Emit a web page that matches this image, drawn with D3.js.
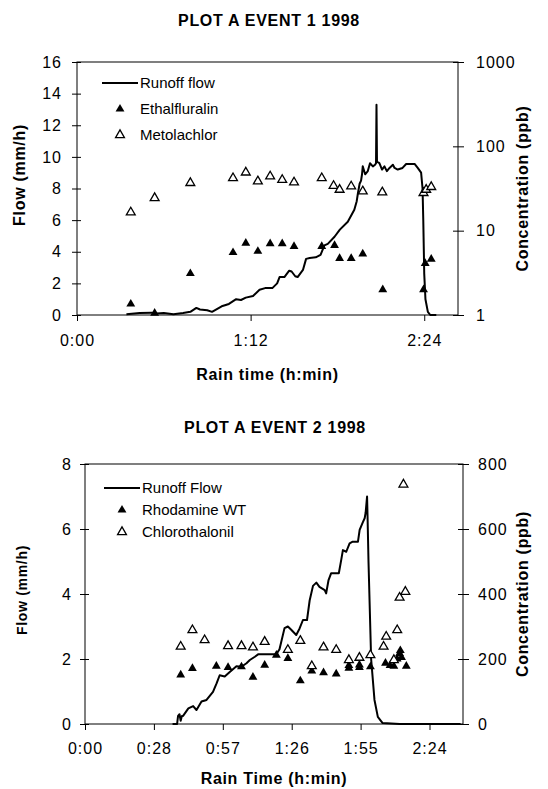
<!DOCTYPE html>
<meta charset="utf-8">
<script src="https://d3js.org/d3.v7.min.js"></script>
<style>
body { margin: 0; background: #fff; }
svg text { font-family: "Liberation Sans", Arial, sans-serif; fill: #000; }
.tick text { font-size: 16px; letter-spacing: 1px; }
.lab { font-size: 16px; font-weight: bold; letter-spacing: 0.7px; }
.leg { font-size: 15px; }
</style>
<div id="my_dataviz"></div>
<script>
// ---------- Event 1 (minutes of rain time) ----------
var flow1Time  = [20.5, 26, 31, 33, 36, 40, 44, 47, 49.5, 51, 54, 56, 60, 63, 66, 68, 70, 73, 75.7, 78, 81, 83, 84, 86, 88, 89, 90.5, 91.5,
                  93.7, 95, 96.5, 99, 101, 102.6, 104, 106.8, 109, 112.3, 115, 116, 116.5, 117.2, 117.8, 118.2, 118.5, 119.5, 120.6,
                  121.5, 122.7, 123.6, 124.0, 124.2, 124.4, 125.4, 126.5, 127.5, 128.5, 129.6, 131, 131.7, 133, 135, 136.5, 140,
                  141.3, 142.7, 143.3, 143.6, 144, 144.5, 145.5, 146.5, 149];
var flow1Value = [0.05, 0.12, 0.15, 0.1, 0.12, 0.05, 0.12, 0.2, 0.45, 0.35, 0.3, 0.2, 0.55, 0.7, 1.0, 0.95, 1.1, 1.2, 1.6, 1.7, 1.7, 2.0, 2.4, 2.4, 2.8, 2.75, 2.45, 2.4,
                  2.85, 3.55, 3.6, 3.65, 3.8, 4.4, 4.5, 4.95, 5.4, 5.9, 6.65, 7.2, 7.7, 8.3, 8.5, 8.9, 9.4, 8.9, 9.1,
                  9.6, 9.4, 9.5, 9.6, 13.3, 9.7, 9.6, 9.2, 9.4, 9.1, 9.3, 9.5, 9.3, 9.2, 9.3, 9.55, 9.55,
                  9.3, 9.0, 8.0, 6.0, 2.6, 1.0, 0.2, 0.0, 0.0];
var ethalTime = [22.3, 32.2, 47, 64.7, 70, 75, 80.1, 85.1, 90, 101.5, 106.8, 108.9, 113.7, 118.5, 126.8, 143.7, 144.4, 146.9];
var ethalConc = [1.35, 1.05, 3.1, 5.5, 7.1, 5.7, 7.0, 7.0, 6.5, 6.5, 6.7, 4.7, 4.7, 5.3, 2.0, 2.0, 4.1, 4.6];
var metoTime  = [22.3, 32.2, 47, 64.7, 70, 75, 80.1, 85.1, 90, 101.5, 106.4, 108.9, 113.7, 118.5, 126.6, 143.7, 144.8, 146.9];
var metoConc  = [16.5, 24.4, 36.8, 42, 49, 38.5, 44, 40, 37.4, 42, 34, 30.6, 33.5, 29.3, 28.5, 28, 30.6, 33];
var xTicks1 = [0, 72, 144];
var xTickLabels1 = ["0:00", "1:12", "2:24"];
var flowTicks1 = [0, 2, 4, 6, 8, 10, 12, 14, 16];
var concTicks1 = [1, 10, 100, 1000];

// ---------- Event 2 ----------
var flow2Time  = [36.6, 38.5, 38.9, 39.5, 40, 40.5, 41, 43.2, 45.2, 46.6, 48.7, 50.8, 53.5, 55, 56.3, 58.4, 60.5, 63.3, 65.4, 67.5,
                  68.9, 71, 72.5, 74.4, 78.5, 80, 81.3, 83.4, 84.8, 86.2, 88.3, 89.7, 91.1, 92.8, 93.9, 95.3, 96.7, 98, 100.2,
                  100.8, 101.8, 102.9, 106.1, 107.1, 107.8, 109.2, 110.6, 111.9, 114.1, 114.8, 116.2, 116.9, 117.3, 117.9,
                  118.1, 118.5, 119.6, 121, 122.4, 124.4, 131.5, 157];
var flow2Value = [0, 0, 0.25, 0.3, 0.1, 0.25, 0.25, 0.48, 0.55, 0.43, 0.69, 0.74, 0.99, 1.25, 1.5, 1.46, 1.6, 1.78, 1.76, 1.87,
                  1.97, 2.07, 2.15, 2.15, 2.15, 2.15, 2.3, 2.95, 3.0, 2.9, 2.74, 2.94, 3.2, 3.2, 3.8, 4.25, 4.35, 4.22, 4.12,
                  4.02, 4.43, 4.64, 4.64, 5.05, 5.35, 5.3, 5.56, 5.61, 5.61, 5.97, 6.22, 6.33, 6.5, 7.0,
                  6.4, 5.0, 2.0, 0.74, 0.22, 0.03, 0, 0];
var rhodTime = [40, 44.9, 54.9, 59.8, 65.4, 70.2, 75.1, 80, 84.8, 90, 94.8, 99.7, 105, 110.3, 110.3, 114.7, 114.7, 119.3,
                125.6, 127.5, 129.1, 130.5, 131.5, 131.8, 132.3, 134.3];
var rhodConc = [151, 171, 178, 174, 176, 144, 181, 212, 202, 133, 163, 158, 154, 172, 180, 174, 182, 176,
                187, 180, 178, 200, 217, 226, 205, 178];
var chloTime = [40, 44.9, 50, 59.8, 65.4, 70.2, 75.1, 84.8, 90, 94.8, 99.7, 105, 110.3, 114.7, 119.3, 124.8, 125.9,
                129.1, 130.5, 131.5, 133.1, 133.9];
var chloConc = [238, 289, 258, 240, 240, 236, 253, 228, 256, 178, 236, 228, 197, 204, 212, 238, 269,
                197, 289, 389, 737, 407];
var xTicks2 = [0, 28.8, 57.6, 86.4, 115.2, 144];
var xTickLabels2 = ["0:00", "0:28", "0:57", "1:26", "1:55", "2:24"];
var flowTicks2 = [0, 2, 4, 6, 8];
var concTicks2 = [0, 200, 400, 600, 800];

var svg = d3.select("#my_dataviz")
  .append("svg")
    .attr("width", 548)
    .attr("height", 789);

var tri = d3.symbol().type(d3.symbolTriangle).size(34);

function drawChart(c) {
  var x = d3.scaleLinear().domain([0, 158]).range([c.left, c.right]);
  var y = d3.scaleLinear().domain([0, c.flowMax]).range([c.bottom, c.top]);
  var y2 = c.logConc
    ? d3.scaleLog().domain([1, 1000]).range([c.bottom, c.top])
    : d3.scaleLinear().domain([0, 800]).range([c.bottom, c.top]);

  // title
  svg.append("text")
    .attr("class", "lab")
    .attr("x", c.titleX).attr("y", c.titleY)
    .attr("text-anchor", "middle")
    .text(c.title);

  // frame
  svg.append("rect")
    .attr("x", c.left).attr("y", c.top)
    .attr("width", c.right - c.left).attr("height", c.bottom - c.top)
    .attr("fill", "none").attr("stroke", "#000").attr("stroke-width", 1);

  // x axis
  var gx = svg.append("g")
    .attr("transform", "translate(0," + c.bottom + ")")
    .call(d3.axisBottom(x).tickValues(c.xTicks)
      .tickFormat(function (d, i) { return c.xLabels[i]; })
      .tickSize(6).tickPadding(c.xPad));
  // left axis
  var gl = svg.append("g")
    .attr("transform", "translate(" + c.left + ",0)")
    .call(d3.axisLeft(y).tickValues(c.flowTicks).tickSize(5).tickPadding(c.lPad));
  gl.selectAll(".tick line").attr("x1", 4);
  // right axis
  var gr = svg.append("g")
    .attr("transform", "translate(" + c.right + ",0)")
    .call(d3.axisRight(y2).tickValues(c.concTicks).tickFormat(d3.format("d")).tickSize(6).tickPadding(c.rPad));
  gr.selectAll(".tick line").attr("x1", -5);
  [gx, gl, gr].forEach(function (g) {
    g.select(".domain").remove();
    g.selectAll(".tick line").attr("stroke", "#000").attr("stroke-width", 1);
    g.selectAll(".tick text").attr("font-family", null).attr("font-size", null);
  });

  // axis labels
  svg.append("text")
    .attr("class", "lab")
    .attr("x", (c.left + c.right) / 2).attr("y", c.xLabY)
    .attr("text-anchor", "middle")
    .text(c.xLabel);
  svg.append("text")
    .attr("class", "lab")
    .style("font-size", c.flowLabSize + "px")
    .attr("transform", "translate(" + c.flowLabX + "," + c.flowLabCY + ") rotate(-90)")
    .attr("text-anchor", "middle")
    .text("Flow (mm/h)");
  svg.append("text")
    .attr("class", "lab")
    .attr("transform", "translate(528," + (c.top + c.bottom) / 2 + ") rotate(-90)")
    .attr("text-anchor", "middle")
    .text("Concentration (ppb)");

  // runoff line
  svg.append("path")
    .datum(d3.range(c.flowT.length))
    .attr("fill", "none")
    .attr("stroke", "#000")
    .attr("stroke-width", 2)
    .attr("stroke-linejoin", "round")
    .attr("d", d3.line()
      .x(function (i) { return x(c.flowT[i]); })
      .y(function (i) { return y(c.flowV[i]); }));

  // concentration markers
  svg.append("g")
    .selectAll("path")
    .data(d3.range(c.fillT.length))
    .enter()
    .append("path")
      .attr("d", tri)
      .attr("transform", function (i) { return "translate(" + x(c.fillT[i]) + "," + y2(c.fillC[i]) + ")"; })
      .attr("fill", "#000");
  svg.append("g")
    .selectAll("path")
    .data(d3.range(c.openT.length))
    .enter()
    .append("path")
      .attr("d", tri)
      .attr("transform", function (i) { return "translate(" + x(c.openT[i]) + "," + y2(c.openC[i]) + ")"; })
      .attr("fill", "#fff").attr("stroke", "#000").attr("stroke-width", 1.3);

  // legend
  var lg = svg.append("g").attr("transform", "translate(" + c.legX + "," + c.legY + ")");
  lg.append("line").attr("x1", 0).attr("x2", 36).attr("y1", 0).attr("y2", 0)
    .attr("stroke", "#000").attr("stroke-width", 2);
  lg.append("text").attr("class", "leg").attr("x", 38).attr("y", 5).text(c.legNames[0]);
  lg.append("path").attr("d", tri).attr("transform", "translate(18," + c.legGap + ")").attr("fill", "#000");
  lg.append("text").attr("class", "leg").attr("x", 38).attr("y", c.legGap + 5).text(c.legNames[1]);
  lg.append("path").attr("d", tri).attr("transform", "translate(18," + 2 * c.legGap + ")")
    .attr("fill", "#fff").attr("stroke", "#000").attr("stroke-width", 1.3);
  lg.append("text").attr("class", "leg").attr("x", 38).attr("y", 2 * c.legGap + 5).text(c.legNames[2]);
}

drawChart({
  title: "PLOT A EVENT 1 1998", titleX: 269, titleY: 26,
  left: 77, right: 458, top: 62, bottom: 315,
  flowMax: 16, logConc: true,
  xTicks: xTicks1, xLabels: xTickLabels1, flowTicks: flowTicks1, concTicks: concTicks1,
  xPad: 14, lPad: 10, rPad: 12,
  xLabel: "Rain time (h:min)", xLabY: 380,
  flowLabX: 25, flowLabCY: 175, flowLabSize: 16,
  flowT: flow1Time, flowV: flow1Value,
  fillT: ethalTime, fillC: ethalConc, openT: metoTime, openC: metoConc,
  legX: 102, legY: 83, legGap: 26,
  legNames: ["Runoff flow", "Ethalfluralin", "Metolachlor"]
});

drawChart({
  title: "PLOT A EVENT 2 1998", titleX: 275, titleY: 433,
  left: 85, right: 463, top: 464, bottom: 724,
  flowMax: 8, logConc: false,
  xTicks: xTicks2, xLabels: xTickLabels2, flowTicks: flowTicks2, concTicks: concTicks2,
  xPad: 13, lPad: 8, rPad: 9,
  xLabel: "Rain Time (h:min)", xLabY: 784,
  flowLabX: 27, flowLabCY: 590, flowLabSize: 14,
  flowT: flow2Time, flowV: flow2Value,
  fillT: rhodTime, fillC: rhodConc, openT: chloTime, openC: chloConc,
  legX: 104, legY: 488, legGap: 22,
  legNames: ["Runoff Flow", "Rhodamine WT", "Chlorothalonil"]
});
</script>
